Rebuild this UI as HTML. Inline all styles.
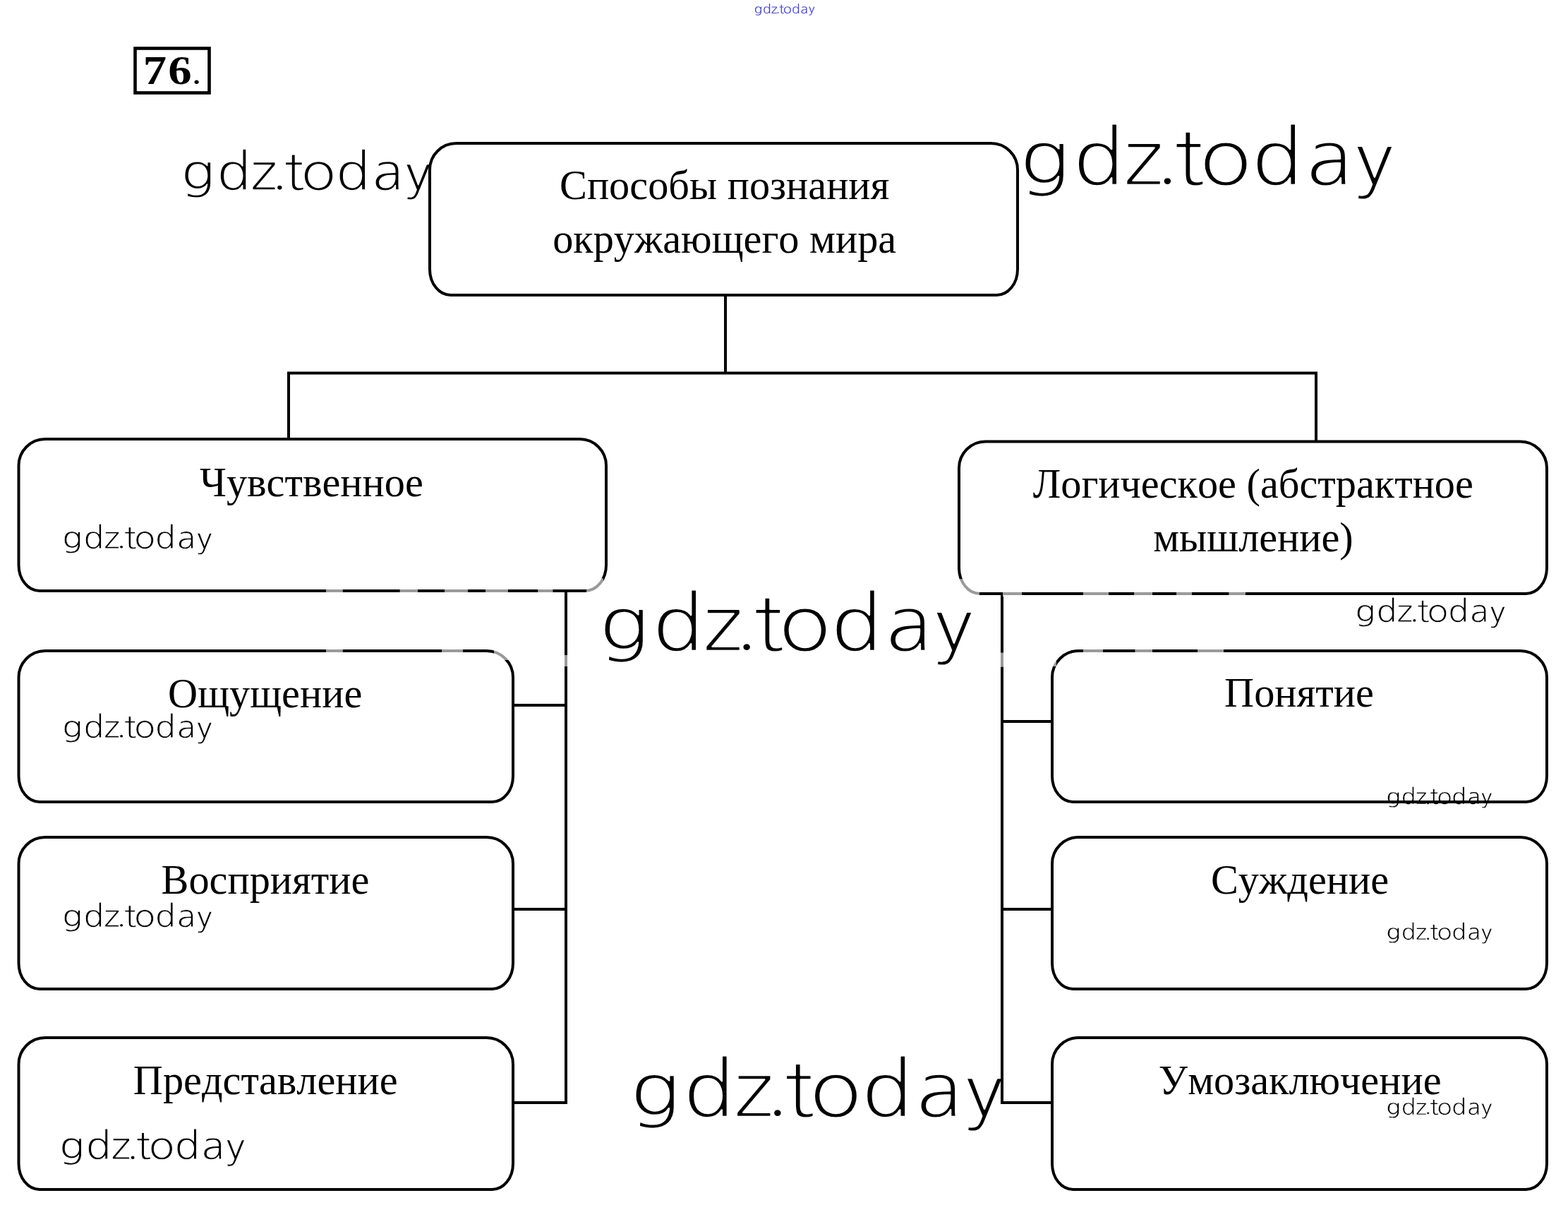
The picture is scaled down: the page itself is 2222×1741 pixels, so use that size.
<!DOCTYPE html>
<html lang="ru">
<head>
<meta charset="utf-8">
<title>76. Способы познания окружающего мира</title>
<style>
html,body{margin:0;padding:0;background:#fff;}
body{width:2222px;height:1741px;overflow:hidden;position:relative;}
svg{display:block;position:absolute;left:0;top:0;}
.bx{fill:none;stroke:#000;stroke-width:4.0;}
.ln{stroke:#000;stroke-width:4.0;fill:none;stroke-linecap:butt;}
.gr{stroke:#9a9a9a;stroke-width:4.0;fill:none;}
.t{font-family:"Liberation Serif","DejaVu Serif",serif;font-size:58.3px;fill:#000;text-anchor:middle;font-kerning:none;}
.w{font-family:"NanumGothic","DejaVu Sans","Liberation Sans",sans-serif;font-weight:400;stroke:#fff;stroke-linejoin:round;text-rendering:geometricPrecision;}
.n{font-family:"Liberation Serif","DejaVu Serif",serif;font-weight:bold;font-size:58px;fill:#000;}
</style>
</head>
<body>
<svg width="2222" height="1741" viewBox="0 0 2222 1741">
<rect x="0" y="0" width="2222" height="1741" fill="#fff"/>

<rect x="191.5" y="68.5" width="105" height="63" fill="none" stroke="#000" stroke-width="4.6"/>
<text class="n" transform="translate(0 119) scale(1.15 1)" x="176.3 207.2" y="0" font-size="59">76<tspan font-weight="normal" font-size="46" x="236.6" y="-0.4">.</tspan></text>
<g opacity="0.996">
<text class="w" transform="translate(260.60 268.80) scale(1.1 1)" x="-3.51 42.11 85.13 112.03 128.65 151.39 195.71 242.95 284.62" y="0" dy="0 0 0 -3.05 3.05 0 0 0 2.91" font-size="72.67" fill="#000" stroke-width="1.34">gdz.today</text>
<text class="w" transform="translate(1450.90 262.00) scale(1.1 1)" x="-5.26 63.05 127.44 167.72 192.60 226.64 293.00 363.72 426.11" y="0" dy="0 0 0 -4.57 4.57 0 0 0 4.35" font-size="108.80" fill="#000" stroke-width="2.16">gdz.today</text>
<text class="w" transform="translate(854.80 921.90) scale(1.1 1)" x="-5.26 63.05 127.44 167.72 192.60 226.64 293.00 363.72 426.11" y="0" dy="0 0 0 -4.57 4.57 0 0 0 4.35" font-size="108.80" fill="#000" stroke-width="2.16">gdz.today</text>
<text class="w" transform="translate(898.80 1581.90) scale(1.1 1)" x="-5.25 62.95 127.25 167.46 192.31 226.30 292.55 363.16 425.45" y="0" dy="0 0 0 -4.56 4.56 0 0 0 4.35" font-size="108.63" fill="#000" stroke-width="2.16">gdz.today</text>
<text class="w" transform="translate(90.50 776.90) scale(1.1 1)" x="-2.11 25.29 51.12 67.27 77.26 90.91 117.53 145.89 170.92" y="0" dy="0 0 0 -1.83 1.83 0 0 0 1.75" font-size="43.64" fill="#000" stroke-width="0.68">gdz.today</text>
<text class="w" transform="translate(90.50 1045.10) scale(1.1 1)" x="-2.11 25.29 51.12 67.27 77.26 90.91 117.53 145.89 170.92" y="0" dy="0 0 0 -1.83 1.83 0 0 0 1.75" font-size="43.64" fill="#000" stroke-width="0.68">gdz.today</text>
<text class="w" transform="translate(90.50 1313.00) scale(1.1 1)" x="-2.11 25.29 51.12 67.27 77.26 90.91 117.53 145.89 170.92" y="0" dy="0 0 0 -1.83 1.83 0 0 0 1.75" font-size="43.64" fill="#000" stroke-width="0.68">gdz.today</text>
<text class="w" transform="translate(87.20 1641.80) scale(1.1 1)" x="-2.61 31.29 63.26 83.25 95.60 112.49 145.43 180.53 211.50" y="0" dy="0 0 0 -2.27 2.27 0 0 0 2.16" font-size="54.00" fill="#000" stroke-width="0.91">gdz.today</text>
<text class="w" transform="translate(1922.70 880.80) scale(1.1 1)" x="-2.11 25.31 51.17 67.34 77.33 91.00 117.64 146.03 171.08" y="0" dy="0 0 0 -1.83 1.83 0 0 0 1.75" font-size="43.68" fill="#000" stroke-width="0.68">gdz.today</text>
<text class="w" transform="translate(1966.10 1139.00) scale(1.1 1)" x="-1.49 17.85 36.09 47.50 54.54 64.18 82.97 103.00 120.67" y="0" dy="0 0 0 -1.29 1.29 0 0 0 1.23" font-size="30.81" fill="#000" stroke-width="0.38">gdz.today</text>
<text class="w" transform="translate(1966.10 1330.90) scale(1.1 1)" x="-1.49 17.85 36.09 47.50 54.54 64.18 82.97 103.00 120.67" y="0" dy="0 0 0 -1.29 1.29 0 0 0 1.23" font-size="30.81" fill="#000" stroke-width="0.38">gdz.today</text>
<text class="w" transform="translate(1966.10 1578.70) scale(1.1 1)" x="-1.49 17.85 36.09 47.50 54.54 64.18 82.97 103.00 120.67" y="0" dy="0 0 0 -1.29 1.29 0 0 0 1.23" font-size="30.81" fill="#000" stroke-width="0.38">gdz.today</text>
<text class="w" transform="translate(1069.70 18.70) scale(1.1 1)" x="-0.85 10.23 20.67 27.20 31.24 36.76 47.52 58.99 69.10" y="0" dy="0 0 0 -0.74 0.74 0 0 0 0.71" font-size="17.64" fill="#4545e0" stroke-width="0.00">gdz.today</text>
</g>
<defs><g id="d"><path d="M646.5 203H1404.5A37.5 37.5 0 0 1 1442 240.5V381.5A29.5 36.5 0 0 1 1412.5 418H638.5A29.5 36.5 0 0 1 609 381.5V240.5A37.5 37.5 0 0 1 646.5 203Z"/>
<path d="M64.0 622H821.5A37.5 37.5 0 0 1 859 659.5V800.5A29.5 36.5 0 0 1 829.5 837H56.0A29.5 36.5 0 0 1 26.5 800.5V659.5A37.5 37.5 0 0 1 64.0 622Z"/>
<path d="M1396.5 625.5H2154.5A37.5 37.5 0 0 1 2192 663.0V804.5A29.5 36.5 0 0 1 2162.5 841H1388.5A29.5 36.5 0 0 1 1359 804.5V663.0A37.5 37.5 0 0 1 1396.5 625.5Z"/>
<path d="M64.0 922H689.5A37.5 37.5 0 0 1 727 959.5V1099.5A29.5 36.5 0 0 1 697.5 1136H56.0A29.5 36.5 0 0 1 26.5 1099.5V959.5A37.5 37.5 0 0 1 64.0 922Z"/>
<path d="M64.0 1186H689.5A37.5 37.5 0 0 1 727 1223.5V1364.5A29.5 36.5 0 0 1 697.5 1401H56.0A29.5 36.5 0 0 1 26.5 1364.5V1223.5A37.5 37.5 0 0 1 64.0 1186Z"/>
<path d="M64.0 1470H689.5A37.5 37.5 0 0 1 727 1507.5V1648.5A29.5 36.5 0 0 1 697.5 1685H56.0A29.5 36.5 0 0 1 26.5 1648.5V1507.5A37.5 37.5 0 0 1 64.0 1470Z"/>
<path d="M1528.5 922H2154.5A37.5 37.5 0 0 1 2192 959.5V1099.5A29.5 36.5 0 0 1 2162.5 1136H1520.5A29.5 36.5 0 0 1 1491 1099.5V959.5A37.5 37.5 0 0 1 1528.5 922Z"/>
<path d="M1528.5 1186H2154.5A37.5 37.5 0 0 1 2192 1223.5V1364.5A29.5 36.5 0 0 1 2162.5 1401H1520.5A29.5 36.5 0 0 1 1491 1364.5V1223.5A37.5 37.5 0 0 1 1528.5 1186Z"/>
<path d="M1528.5 1470H2154.5A37.5 37.5 0 0 1 2192 1507.5V1648.5A29.5 36.5 0 0 1 2162.5 1685H1520.5A29.5 36.5 0 0 1 1491 1648.5V1507.5A37.5 37.5 0 0 1 1528.5 1470Z"/>
<path d="M1028 418L1028 528.5"/>
<path d="M407 528.5L1867 528.5"/>
<path d="M409 528.5L409 622"/>
<path d="M1865 528.5L1865 625.5"/>
<path d="M802 837L802 1564.1"/>
<path d="M727 999L802 999"/>
<path d="M727 1288L802 1288"/>
<path d="M727 1562L802 1562"/>
<path d="M1420 841L1420 1564.1"/>
<path d="M1420 1022L1491 1022"/>
<path d="M1420 1288L1491 1288"/>
<path d="M1420 1562L1491 1562"/></g>
<clipPath id="c"><rect x="462.4" y="833" width="23.0" height="8"/><rect x="566.8" y="833" width="25.2" height="8"/><rect x="630" y="833" width="33" height="8"/><rect x="688" y="833" width="32" height="8"/><rect x="762.5" y="833" width="20.7" height="8"/><rect x="831.5" y="819.5" width="23.0" height="21.5"/><rect x="462.4" y="918" width="23.0" height="8"/><rect x="626.4" y="918" width="29.6" height="8"/><rect x="700" y="918" width="19.5" height="17"/><rect x="798" y="928" width="8" height="16"/><rect x="1421.1" y="836" width="26.8" height="9"/><rect x="1535" y="836" width="35.8" height="9"/><rect x="1607.5" y="836" width="25.3" height="9"/><rect x="1667" y="836" width="22" height="9"/><rect x="1741.7" y="836" width="22.9" height="9"/><rect x="1355" y="820.5" width="32.5" height="24.5"/><rect x="1535" y="918" width="28" height="8"/><rect x="1608.7" y="918" width="24.1" height="8"/><rect x="1697" y="918" width="36.7" height="8"/><rect x="1416" y="924.8" width="8" height="19.6"/><rect x="1487" y="934.3" width="10" height="9.5"/></clipPath></defs>
<mask id="m" maskUnits="userSpaceOnUse" x="0" y="0" width="2222" height="1741"><rect x="0" y="0" width="2222" height="1741" fill="#fff"/><rect x="462.4" y="833" width="23.0" height="8" fill="#000"/><rect x="566.8" y="833" width="25.2" height="8" fill="#000"/><rect x="630" y="833" width="33" height="8" fill="#000"/><rect x="688" y="833" width="32" height="8" fill="#000"/><rect x="762.5" y="833" width="20.7" height="8" fill="#000"/><rect x="831.5" y="819.5" width="23.0" height="21.5" fill="#000"/><rect x="462.4" y="918" width="23.0" height="8" fill="#000"/><rect x="626.4" y="918" width="29.6" height="8" fill="#000"/><rect x="700" y="918" width="19.5" height="17" fill="#000"/><rect x="798" y="928" width="8" height="16" fill="#000"/><rect x="1421.1" y="836" width="26.8" height="9" fill="#000"/><rect x="1535" y="836" width="35.8" height="9" fill="#000"/><rect x="1607.5" y="836" width="25.3" height="9" fill="#000"/><rect x="1667" y="836" width="22" height="9" fill="#000"/><rect x="1741.7" y="836" width="22.9" height="9" fill="#000"/><rect x="1355" y="820.5" width="32.5" height="24.5" fill="#000"/><rect x="1535" y="918" width="28" height="8" fill="#000"/><rect x="1608.7" y="918" width="24.1" height="8" fill="#000"/><rect x="1697" y="918" width="36.7" height="8" fill="#000"/><rect x="1416" y="924.8" width="8" height="19.6" fill="#000"/><rect x="1487" y="934.3" width="10" height="9.5" fill="#000"/></mask>
<g mask="url(#m)"><use href="#d" class="ln"/></g>
<g clip-path="url(#c)"><use href="#d" class="gr"/></g>
<text class="t" x="1026.7" y="282">Способы познания</text>
<text class="t" x="1026.7" y="358">окружающего мира</text>
<text class="t" x="441.4" y="702.5">Чувственное</text>
<text class="t" x="1775.8" y="705.3">Логическое (абстрактное</text>
<text class="t" x="1776" y="781.3">мышление)</text>
<text class="t" x="375.7" y="1001.5">Ощущение</text>
<text class="t" x="376" y="1266">Восприятие</text>
<text class="t" x="376.2" y="1549.5">Представление</text>
<text class="t" x="1841" y="1001">Понятие</text>
<text class="t" x="1842" y="1266">Суждение</text>
<text class="t" x="1842.2" y="1550">Умозаключение</text>
</svg>
</body>
</html>
